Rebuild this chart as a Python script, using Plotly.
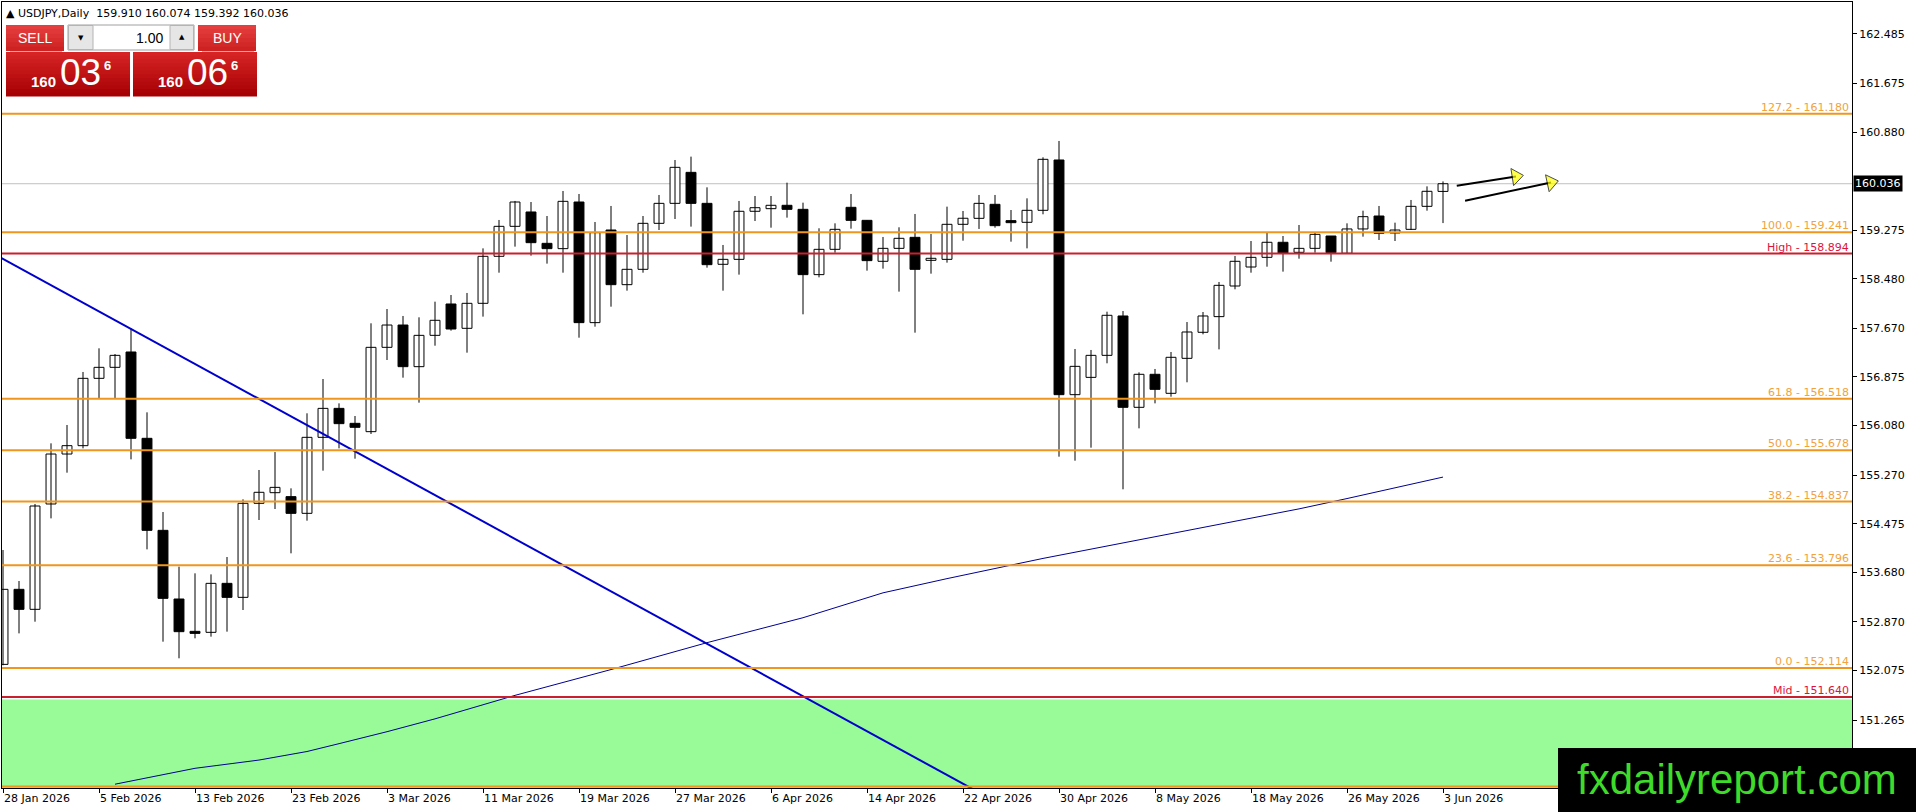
import pandas as pd
import plotly.graph_objects as go

# USDJPY daily candles, 28 Jan 2026 .. 3 Jun 2026
opens = [152.175, 153.402, 153.075, 154.798, 155.615, 155.752, 156.853, 157.033, 157.284, 155.872,
         154.367, 153.244, 152.715, 152.699, 153.500, 153.271, 154.809, 154.983, 154.918, 154.645,
         155.888, 156.362, 156.117, 155.981, 157.360, 157.725, 157.044, 157.556, 158.069, 157.671,
         158.080, 158.849, 159.339, 159.574, 159.061, 158.974, 159.737, 157.764, 159.279, 158.385,
         158.636, 159.388, 159.715, 160.222, 159.715, 158.718, 158.799, 159.585, 159.628, 159.683,
         159.617, 158.549, 158.963, 159.650, 159.437, 158.767, 158.979, 159.159, 158.783, 158.799,
         159.372, 159.470, 159.699, 159.432, 159.405, 159.601, 160.424, 156.586, 156.869, 157.229,
         157.873, 156.379, 156.919, 156.608, 157.180, 157.606, 157.862, 158.363, 158.674, 158.832,
         159.078, 158.914, 158.979, 159.181, 158.898, 159.296, 159.508, 159.230, 159.290, 159.666,
         159.910]
highs = [154.045, 153.538, 154.798, 155.790, 156.090, 156.957, 157.344, 157.251, 157.671, 156.297,
         154.667, 153.773, 153.664, 153.647, 153.931, 154.874, 155.354, 155.648, 155.054, 156.281,
         156.842, 156.444, 156.237, 157.753, 157.987, 157.873, 157.851, 158.107, 158.216, 158.249,
         158.979, 159.443, 159.754, 159.737, 159.508, 159.917, 159.868, 159.410, 159.672, 159.197,
         159.508, 159.852, 160.424, 160.479, 159.977, 159.034, 159.754, 159.835, 159.835, 160.053,
         159.726, 159.307, 159.388, 159.868, 159.437, 159.165, 159.323, 159.541, 159.214, 159.661,
         159.590, 159.852, 159.852, 159.606, 159.797, 160.468, 160.735, 157.333, 157.317, 157.943,
         157.954, 156.951, 157.006, 157.284, 157.774, 157.938, 158.429, 158.854, 159.099, 159.230,
         159.181, 159.361, 159.236, 159.181, 159.388, 159.595, 159.672, 159.399, 159.770, 159.993,
         160.074]
lows = [152.160, 152.682, 152.873, 154.563, 155.310, 155.708, 156.526, 156.526, 155.528, 154.056,
        152.546, 152.274, 152.601, 152.628, 152.710, 153.064, 154.536, 154.716, 153.991, 154.525,
        155.343, 155.708, 155.539, 155.943, 157.153, 156.864, 156.455, 157.387, 157.633, 157.273,
        157.862, 158.581, 159.007, 158.859, 158.729, 158.581, 157.518, 157.698, 158.025, 158.287,
        158.581, 159.279, 159.459, 159.334, 158.663, 158.287, 158.549, 159.426, 159.317, 159.481,
        157.900, 158.505, 158.908, 159.301, 158.614, 158.647, 158.271, 157.600, 158.565, 158.745,
        159.104, 159.296, 159.317, 159.088, 158.979, 159.536, 155.572, 155.506, 155.719, 157.099,
        155.038, 156.035, 156.444, 156.553, 156.788, 157.573, 157.327, 158.309, 158.581, 158.679,
        158.598, 158.810, 158.908, 158.761, 158.887, 159.170, 159.116, 159.099, 159.279, 159.595,
        159.392]
closes = [153.402, 153.075, 154.765, 155.615, 155.752, 156.853, 157.033, 157.229, 155.872, 154.367,
          153.255, 152.710, 152.682, 153.500, 153.271, 154.809, 154.989, 155.070, 154.645, 155.888,
          156.362, 156.112, 156.052, 157.360, 157.725, 157.044, 157.556, 157.802, 157.660, 158.080,
          158.849, 159.339, 159.737, 159.072, 158.974, 159.748, 157.764, 159.236, 158.385, 158.636,
          159.388, 159.715, 160.304, 159.715, 158.712, 158.799, 159.585, 159.644, 159.683, 159.617,
          158.549, 158.963, 159.290, 159.437, 158.778, 158.979, 159.143, 158.636, 158.816, 159.372,
          159.471, 159.715, 159.350, 159.399, 159.601, 160.435, 156.586, 157.049, 157.229, 157.884,
          156.379, 156.919, 156.673, 157.197, 157.611, 157.873, 158.374, 158.767, 158.832, 159.078,
          158.903, 158.979, 159.208, 158.908, 159.296, 159.497, 159.225, 159.279, 159.666, 159.912,
          160.036]

dates = pd.bdate_range("2026-01-28", periods=len(opens))
bars = list(range(len(opens)))

# moving average (thin navy line)
ma_bars = [7, 10, 12, 16, 19, 21, 24, 27, 30, 32, 38, 44, 50, 55, 59, 63, 65, 81, 84, 90]
ma_vals = [150.215, 150.375, 150.475, 150.610, 150.750, 150.878, 151.074, 151.284, 151.520, 151.668,
           152.090, 152.530, 152.938, 153.345, 153.577, 153.798, 153.908, 154.718, 154.887, 155.238]

# falling trend line
trend_bars = [-1, 62]
trend_vals = [158.948, 149.937]

# fibonacci levels + high / mid lines
fib_levels = [161.180, 159.241, 156.518, 155.678, 154.837, 153.796, 152.114]
fib_pcts = ["127.2", "100.0", "61.8", "50.0", "38.2", "23.6", "0.0"]
red_levels = [158.894, 151.640]
red_names = ["High", "Mid"]

bid = 160.036
ask = 160.066
lots = "1.00"

price_ticks = [162.485, 161.675, 160.880, 159.275, 158.480, 157.670, 156.875,
               156.080, 155.270, 154.475, 153.680, 152.870, 152.075, 151.265]

# the two yellow arrows (tail -> head)
arrow_tail_bars = [90.86, 91.38]
arrow_tail_vals = [160.004, 159.758]
arrow_head_bars = [94.56, 96.75]
arrow_head_vals = [160.154, 160.056]

Y_MIN, Y_MAX = 150.153, 163.008
X_MIN, X_MAX = -0.0625, 115.5625

W, H = 1916, 812
ML, MR, MT, MB = 2, 64, 2, 24
PW, PH = W - ML - MR, H - MT - MB

FONT = "DejaVu Sans"
FIB_LINE = "#F0961E"
FIB_TEXT = "#F0A23E"
RED_LINE = "#C8202C"
RED_TEXT = "#DC143C"


def px(x):
    return (x - ML) / PW


def py(y):
    return (MT + PH - y) / PH


fig = go.Figure()

# wicks
wx, wy = [], []
for i in bars:
    wx += [i, i, None]
    wy += [lows[i], highs[i], None]
fig.add_trace(go.Scatter(x=wx, y=wy, mode="lines", line=dict(color="black", width=1),
                         hoverinfo="skip", showlegend=False))

# bodies
up = [i for i in bars if closes[i] >= opens[i]]
dn = [i for i in bars if closes[i] < opens[i]]
for sel, fill in ((up, "white"), (dn, "black")):
    fig.add_trace(go.Bar(
        x=sel,
        y=[abs(closes[i] - opens[i]) for i in sel],
        base=[min(opens[i], closes[i]) for i in sel],
        width=0.62,
        marker=dict(color=fill, line=dict(color="black", width=1)),
        showlegend=False, hoverinfo="skip",
    ))

fig.add_trace(go.Scatter(x=ma_bars, y=ma_vals, mode="lines",
                         line=dict(color="#000090", width=1), showlegend=False))
fig.add_trace(go.Scatter(x=trend_bars, y=trend_vals, mode="lines",
                         line=dict(color="#0000CC", width=2), showlegend=False))

for k in range(len(arrow_tail_bars)):
    fig.add_trace(go.Scatter(
        x=[arrow_tail_bars[k], arrow_head_bars[k]],
        y=[arrow_tail_vals[k], arrow_head_vals[k]],
        mode="lines+markers",
        line=dict(color="black", width=2),
        marker=dict(symbol="triangle-up", size=[0, 15], color="#FFFF00",
                    angleref="previous", line=dict(color="black", width=1)),
        showlegend=False, hoverinfo="skip",
    ))

shapes = []
annotations = []

# green zone below the mid line
shapes.append(dict(type="rect", xref="paper", yref="y", x0=0, x1=1, y0=Y_MIN, y1=red_levels[1] - 0.04,
                   fillcolor="#98FB98", line=dict(width=0), layer="below"))

# current price line
shapes.append(dict(type="line", xref="paper", yref="y", x0=0, x1=1, y0=bid, y1=bid,
                   line=dict(color="#C0C0C0", width=1), layer="below"))

for lvl, pct in zip(fib_levels, fib_pcts):
    shapes.append(dict(type="line", xref="paper", yref="y", x0=0, x1=1, y0=lvl, y1=lvl,
                       line=dict(color=FIB_LINE, width=2)))
    annotations.append(dict(xref="paper", yref="y", x=1, y=lvl, xanchor="right", yanchor="bottom",
                            xshift=-1, yshift=-2, showarrow=False, text=f"{pct} - {lvl:.3f}",
                            font=dict(family=FONT, size=11, color=FIB_TEXT)))

for lvl, name in zip(red_levels, red_names):
    shapes.append(dict(type="line", xref="paper", yref="y", x0=0, x1=1, y0=lvl, y1=lvl,
                       line=dict(color=RED_LINE, width=2)))
    annotations.append(dict(xref="paper", yref="y", x=1, y=lvl, xanchor="right", yanchor="bottom",
                            xshift=-1, yshift=-2, showarrow=False, text=f"{name} - {lvl:.3f}",
                            font=dict(family=FONT, size=11, color=RED_TEXT)))

# orange line along the bottom edge
shapes.append(dict(type="line", xref="paper", yref="paper", x0=0, x1=1, y0=0.002, y1=0.002,
                   line=dict(color=FIB_LINE, width=2)))

# current price tag on the axis
annotations.append(dict(xref="paper", yref="y", x=1, y=bid, xanchor="left", yanchor="middle",
                        xshift=1, showarrow=False, text=f"{bid:.3f}", bgcolor="black", borderpad=1,
                        font=dict(family=FONT, size=11, color="white")))

# header line
o, h, l, c = opens[-1], highs[-1], lows[-1], closes[-1]
annotations.append(dict(xref="paper", yref="paper", x=px(4), y=py(13), xanchor="left", yanchor="middle",
                        showarrow=False,
                        text=f"\u25b2\u00a0USDJPY,Daily\u00a0\u00a0{o:.3f} {h:.3f} {l:.3f} {c:.3f}",
                        font=dict(family=FONT, size=11, color="black")))


# one-click trading panel
def grad_box(x0, x1, y0, y1, top, bot, n=10):
    for k in range(n):
        t = k / (n - 1)
        col = "rgb(%d,%d,%d)" % tuple(round(top[j] + (bot[j] - top[j]) * t) for j in range(3))
        ya = y0 + (y1 - y0) * k / n
        yb = min(y1, y0 + (y1 - y0) * (k + 1) / n + 1)
        shapes.append(dict(type="rect", xref="paper", yref="paper", x0=px(x0), x1=px(x1),
                           y0=py(ya), y1=py(yb), fillcolor=col, line=dict(width=0)))


def label(x, y, text, size, color="white", anchor="center", family="Liberation Sans"):
    annotations.append(dict(xref="paper", yref="paper", x=px(x), y=py(y), xanchor=anchor, yanchor="middle",
                            showarrow=False, text=text, font=dict(family=family, size=size, color=color)))


BTN_TOP, BTN_BOT = (228, 62, 62), (206, 34, 34)
BOX_TOP, BOX_BOT = (214, 36, 36), (166, 0, 4)

grad_box(6, 64, 25, 51, BTN_TOP, BTN_BOT, 6)
grad_box(198, 256, 25, 51, BTN_TOP, BTN_BOT, 6)
for x0, x1 in ((10, 62), (202, 254)):
    shapes.append(dict(type="line", xref="paper", yref="paper", x0=px(x0), x1=px(x1), y0=py(51.5), y1=py(51.5),
                       line=dict(color="#F2A0A0", width=1)))
grad_box(6, 130, 52, 96.5, BOX_TOP, BOX_BOT, 12)
grad_box(133, 257, 52, 96.5, BOX_TOP, BOX_BOT, 12)

shapes.append(dict(type="rect", xref="paper", yref="paper", x0=px(68), x1=px(194), y0=py(25), y1=py(50),
                   fillcolor="white", line=dict(color="#A0A0A0", width=1)))
for x0, x1 in ((68.5, 93), (170, 193.5)):
    shapes.append(dict(type="rect", xref="paper", yref="paper", x0=px(x0), x1=px(x1), y0=py(25.5), y1=py(49.5),
                       fillcolor="#E6E6E6", line=dict(color="#B4B4B4", width=1)))

label(35, 38.5, "SELL", 14)
label(227, 38.5, "BUY", 14)
label(165, 38, lots, 14, color="black", anchor="right")
label(80.5, 38, "\u25bc", 7, color="black", family=FONT)
label(182, 37.5, "\u25b2", 7, color="black", family=FONT)

for px_base, price in ((29, bid), (156, ask)):
    s = f"{price:.3f}"
    big, pip, frac = s[:3], s[4:6], s[6]
    annotations.append(dict(xref="paper", yref="paper", x=px(px_base), y=py(81.5), xanchor="left",
                            yanchor="middle", showarrow=False, text=f"<b>{big}</b>",
                            font=dict(family="Liberation Sans", size=15, color="white")))
    annotations.append(dict(xref="paper", yref="paper", x=px(px_base + 29), y=py(73), xanchor="left",
                            yanchor="middle", showarrow=False, text=pip,
                            font=dict(family="Liberation Sans", size=37, color="white")))
    annotations.append(dict(xref="paper", yref="paper", x=px(px_base + 73), y=py(66), xanchor="left",
                            yanchor="middle", showarrow=False, text=f"<b>{frac}</b>",
                            font=dict(family="Liberation Sans", size=13, color="white")))

# watermark
shapes.append(dict(type="rect", xref="paper", yref="paper", x0=px(1558), x1=px(1916), y0=py(748), y1=py(812),
                   fillcolor="black", line=dict(width=0)))
annotations.append(dict(xref="paper", yref="paper", x=px(1737), y=py(779), xanchor="center", yanchor="middle",
                        showarrow=False, text="fxdailyreport.com",
                        font=dict(family="Liberation Sans", size=42, color="#3EDB2B")))

tick_bars = bars[::6]
tick_text = [f"{dates[i].day} {dates[i]:%b %Y}" for i in tick_bars]

fig.update_layout(
    width=W, height=H,
    margin=dict(l=ML, r=MR, t=MT, b=MB, pad=0),
    paper_bgcolor="white", plot_bgcolor="white",
    barmode="overlay", showlegend=False,
    shapes=shapes, annotations=annotations,
    font=dict(family=FONT, size=11, color="black"),
    xaxis=dict(range=[X_MIN, X_MAX], showgrid=False, zeroline=False, fixedrange=True,
               tickvals=tick_bars, ticktext=tick_text, ticks="outside", ticklen=4, tickcolor="black",
               ticklabelposition="outside right", showline=True, linecolor="black", linewidth=1, mirror=True,
               tickfont=dict(family=FONT, size=11, color="black")),
    yaxis=dict(range=[Y_MIN, Y_MAX], side="right", showgrid=False, zeroline=False, fixedrange=True,
               tickvals=price_ticks, ticktext=[f"{v:.3f}" for v in price_ticks],
               ticks="outside", ticklen=4, tickcolor="black",
               showline=True, linecolor="black", linewidth=1, mirror=True,
               tickfont=dict(family=FONT, size=11, color="black")),
)

fig.write_html("out.html", config={"displayModeBar": False},
               post_script="document.body.style.margin='0';document.body.style.overflow='hidden';")
